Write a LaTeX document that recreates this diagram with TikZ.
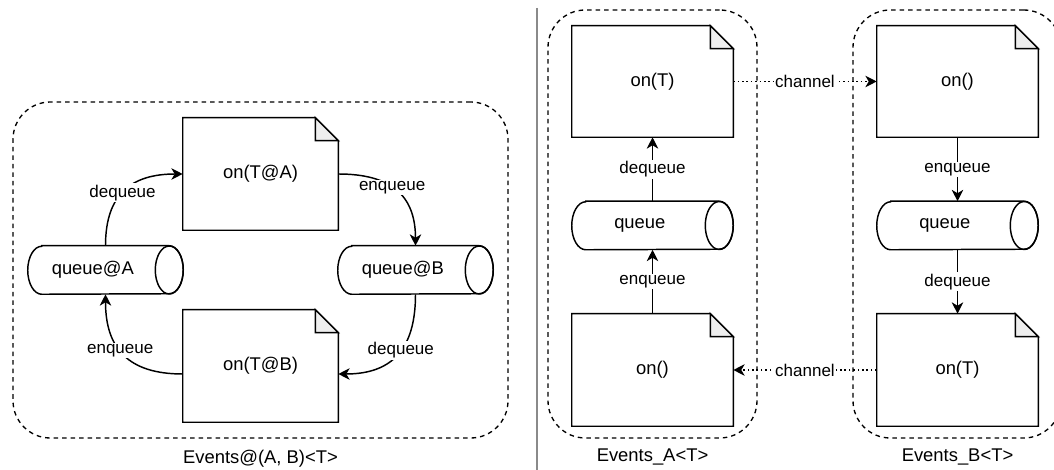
\documentclass[tikz,border=0pt]{standalone}
\usepackage{fontspec}
\setmainfont{Liberation Sans}
\usetikzlibrary{arrows.meta,calc}
\definecolor{foldgray}{HTML}{EEEEEE}
\definecolor{sepgray}{HTML}{8A8A8A}
\def\foldsz{17.25pt}
\def\crx{10.5pt}
\def\cry{18pt}
\begin{document}
\begin{tikzpicture}[x=0.75pt,y=-0.75pt,
  nodetext/.style={font=\fontsize{13.8}{16}\selectfont},
  doc/.style={nodetext,inner sep=0pt,minimum height=84pt},
  queue/.style={nodetext,inner sep=0pt,minimum height=36pt},
  shapeline/.style={line width=1.1pt,line join=miter},
  container/.style={draw,line width=1pt,dash pattern=on 3.4pt off 3pt,rounded corners=28pt,inner sep=0pt},
  ctitle/.style={nodetext,inner sep=0pt},
  flow/.style={line width=1.1pt,-{Stealth[length=8.5pt,width=8.5pt,inset=2.5pt]}},
  chan/.style={line width=1.1pt,dash pattern=on 1.1pt off 2.2pt,-{Stealth[length=8.5pt,width=8.5pt,inset=2.5pt]}},
  lbl/.style={font=\fontsize{12.75}{15}\selectfont,fill=white,inner sep=1pt},
]
\useasboundingbox (0,0) rectangle (1054,470);

% separator
\coordinate (septop) at (537,8);
\coordinate (sepbot) at (537,470);
\draw[sepgray,line width=1.2pt] (septop) -- (sepbot);

% containers
\node[container,minimum width=371.25pt,minimum height=252pt] (cl) at (260.5,270) {};
\node[ctitle] (cltitle) at (260.5,459) {Events@(A, B)<T>};
\node[container,minimum width=156.75pt,minimum height=321pt] (ca) at (652.5,224) {};
\node[ctitle] (catitle) at (652.5,457) {Events\_A<T>};
\node[container,minimum width=156pt,minimum height=321pt] (cb) at (957,224) {};
\node[ctitle] (cbtitle) at (957.5,457) {Events\_B<T>};

% left nodes
\node[doc,minimum width=116.25pt] (ta) at (260.5,174) {on(T@A)};
\node[doc,minimum width=116.25pt] (tb) at (260.5,366) {on(T@B)};
\node[queue,minimum width=116.25pt] (qa) at (105.5,270) {\hspace*{-19pt}queue@A};
\node[queue,minimum width=116.25pt] (qb) at (415.5,270) {\hspace*{-19pt}queue@B};

% right nodes
\node[doc,minimum width=120.75pt,minimum height=83.25pt] (ra1) at (652.5,81.5) {on(T)};
\node[doc,minimum width=120.75pt] (ra2) at (652.5,370) {on()};
\node[queue,minimum width=120.75pt] (rqa) at (652.5,225.5) {\hspace*{-19pt}queue};
\node[doc,minimum width=120.75pt,minimum height=83.25pt] (rb1) at (957.5,81.5) {on()};
\node[doc,minimum width=120.75pt] (rb2) at (957.5,370) {on(T)};
\node[queue,minimum width=120.75pt] (rqb) at (957.5,225.5) {\hspace*{-19pt}queue};

% document outlines
\foreach \n in {ta,tb,ra1,ra2,rb1,rb2}{
  \draw[shapeline] (\n.north west) -- ([xshift=-\foldsz]\n.north east) -- ([yshift=-\foldsz]\n.north east) -- (\n.south east) -- (\n.south west) -- cycle;
  \filldraw[shapeline,fill=foldgray] ([xshift=-\foldsz]\n.north east) -- ([xshift=-\foldsz,yshift=-\foldsz]\n.north east) -- ([yshift=-\foldsz]\n.north east) -- cycle;
}
% cylinder outlines
\foreach \n in {qa,qb,rqa,rqb}{
  \draw[shapeline] ([xshift=\crx]\n.north west) -- ([xshift=-\crx]\n.north east)
    arc[start angle=90,end angle=-90,x radius=\crx,y radius=\cry]
    -- ([xshift=\crx]\n.south west)
    arc[start angle=270,end angle=90,x radius=\crx,y radius=\cry] -- cycle;
  \draw[shapeline] ([xshift=-\crx]\n.east) ellipse[x radius=\crx,y radius=\cry];
}

% left connectors
\draw[flow] (qa.north) to[out=90,in=180,looseness=1.25] node[lbl,pos=0.47] {dequeue} (ta.west);
\draw[flow] (ta.east) to[out=0,in=90,looseness=1.25] node[lbl,pos=0.45] {enqueue} (qb.north);
\draw[flow] (qb.south) to[out=-90,in=0,looseness=1.25] node[lbl,pos=0.45] {dequeue} ([yshift=-6pt]tb.east);
\draw[flow] ([yshift=-6pt]tb.west) to[out=180,in=-90,looseness=1.25] node[lbl,pos=0.55] {enqueue} (qa.south);

% right connectors
\draw[flow] (rqa.north) -- node[lbl] {dequeue} (ra1.south);
\draw[flow] (ra2.north) -- node[lbl] {enqueue} (rqa.south);
\draw[flow] (rb1.south) -- node[lbl] {enqueue} (rqb.north);
\draw[flow] (rqb.south) -- node[lbl] {dequeue} (rb2.north);
\draw[chan] (ra1.east) -- node[lbl] {channel} (rb1.west);
\draw[chan] (rb2.west) -- node[lbl] {channel} (ra2.east);
\end{tikzpicture}
\end{document}
